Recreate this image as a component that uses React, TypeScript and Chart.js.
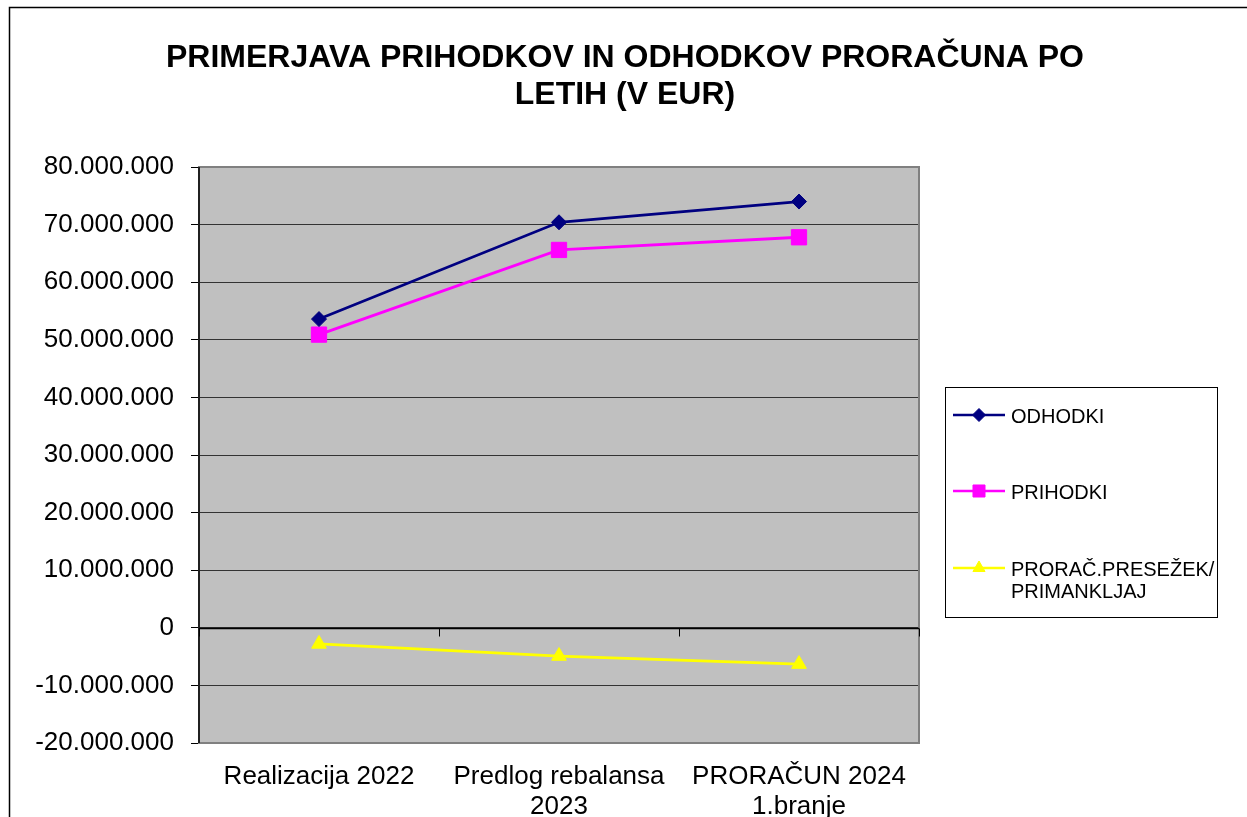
import React, { useEffect, useRef } from 'react';
import { Chart, registerables } from 'chart.js';
import { drawPoint } from 'chart.js/helpers';

Chart.register(...registerables);

const FONT = '"Liberation Sans", Arial, sans-serif';

const TITLE_LINES = ['PRIMERJAVA PRIHODKOV IN ODHODKOV PRORAČUNA PO', 'LETIH (V EUR)'];
const CATEGORIES = [['Realizacija 2022'], ['Predlog rebalansa', '2023'], ['PRORAČUN 2024', '1.branje']];
const ODHODKI = [53600000, 70400000, 74000000];
const PRIHODKI = [50900000, 65600000, 67800000];
const PRESEZEK = [-2800000, -4900000, -6300000];
const SERIES_NAMES = ['ODHODKI', 'PRIHODKI', 'PRORAČ.PRESEŽEK/PRIMANKLJAJ'];
const LEGEND_LABELS = [['ODHODKI'], ['PRIHODKI'], ['PRORAČ.PRESEŽEK/', 'PRIMANKLJAJ']];
const Y_MIN = -20000000;
const Y_MAX = 80000000;
const Y_STEP = 10000000;

function fmt(v: number): string {
  const s = Math.abs(Math.round(v)).toString().replace(/\B(?=(\d{3})+(?!\d))/g, '.');
  return (v < 0 ? '-' : '') + s;
}

const decorPlugin = {
  id: 'decor',
  beforeDraw(chart: any) {
    const { ctx, chartArea: a } = chart;
    ctx.save();
    ctx.fillStyle = '#ffffff';
    ctx.fillRect(0, 0, chart.width, chart.height);
    // outer frame
    ctx.strokeStyle = '#000000';
    ctx.lineWidth = 1.5;
    ctx.beginPath();
    ctx.moveTo(9.5, chart.height);
    ctx.lineTo(9.5, 7.5);
    ctx.lineTo(chart.width, 7.5);
    ctx.stroke();
    // plot background
    ctx.fillStyle = '#C0C0C0';
    ctx.fillRect(a.left, a.top, a.right - a.left, a.bottom - a.top);
    // title
    ctx.fillStyle = '#000000';
    ctx.font = `bold 32px ${FONT}`;
    ctx.textAlign = 'center';
    ctx.textBaseline = 'middle';
    TITLE_LINES.forEach((t, i) => ctx.fillText(t, 625, 58 + i * 37));
    ctx.restore();
  },
  beforeDatasetsDraw(chart: any) {
    const { ctx, chartArea: a, scales } = chart;
    ctx.save();
    ctx.strokeStyle = '#808080';
    ctx.lineWidth = 2;
    ctx.strokeRect(a.left, a.top, a.right - a.left, a.bottom - a.top);
    // left axis line
    ctx.strokeStyle = '#000000';
    ctx.lineWidth = 1.5;
    ctx.beginPath();
    ctx.moveTo(a.left, a.top);
    ctx.lineTo(a.left, a.bottom);
    ctx.stroke();
    // zero axis with category ticks
    const y0 = Math.round(scales.y.getPixelForValue(0)) + 0.5;
    ctx.lineWidth = 1.5;
    ctx.beginPath();
    ctx.moveTo(a.left, y0);
    ctx.lineTo(a.right, y0);
    ctx.stroke();
    ctx.lineWidth = 1;
    const n = CATEGORIES.length;
    const step = (a.right - a.left) / n;
    for (let i = 0; i <= n; i++) {
      const x = Math.round(a.left + i * step) + 0.5;
      ctx.beginPath();
      ctx.moveTo(x, y0);
      ctx.lineTo(x, y0 + 8);
      ctx.stroke();
    }
    ctx.restore();
  },
  afterDraw(chart: any) {
    const { ctx } = chart;
    ctx.save();
    const lx = 945.5, ly = 387.5, lw = 272, lh = 230;
    ctx.fillStyle = '#ffffff';
    ctx.fillRect(lx, ly, lw, lh);
    ctx.strokeStyle = '#000000';
    ctx.lineWidth = 1;
    ctx.strokeRect(lx, ly, lw, lh);
    const itemY = [415, 491, 568];
    const legendRadius = [6.5, 8.5, 7];
    chart.data.datasets.forEach((ds: any, i: number) => {
      const y = itemY[i];
      ctx.strokeStyle = ds.borderColor;
      ctx.lineWidth = 2.5;
      ctx.beginPath();
      ctx.moveTo(953, y);
      ctx.lineTo(1005, y);
      ctx.stroke();
      ctx.fillStyle = ds.backgroundColor;
      ctx.strokeStyle = ds.borderColor;
      ctx.lineWidth = 1;
      drawPoint(ctx, { pointStyle: ds.pointStyle, rotation: 0, radius: legendRadius[i], borderWidth: 1 }, 979, y);
      ctx.fillStyle = '#000000';
      ctx.font = `20px ${FONT}`;
      ctx.textAlign = 'left';
      ctx.textBaseline = 'middle';
      LEGEND_LABELS[i].forEach((t, j) => ctx.fillText(t, 1011, y + 2 + j * 22));
    });
    ctx.restore();
  },
};

export default function App() {
  const ref = useRef<HTMLCanvasElement>(null);
  useEffect(() => {
    document.body.style.margin = '0';
    const canvas = ref.current;
    if (!canvas) return;
    const chart = new Chart(canvas, {
      type: 'line',
      data: {
        labels: CATEGORIES as any,
        datasets: [
          {
            label: SERIES_NAMES[0],
            data: ODHODKI,
            borderColor: '#000080',
            backgroundColor: '#000080',
            pointStyle: 'rectRot',
            pointRadius: 7.5,
            pointBorderWidth: 1,
            borderWidth: 2.8,
            tension: 0,
            fill: false,
          },
          {
            label: SERIES_NAMES[1],
            data: PRIHODKI,
            borderColor: '#FF00FF',
            backgroundColor: '#FF00FF',
            pointStyle: 'rect',
            pointRadius: 10.8,
            pointBorderWidth: 1,
            borderWidth: 2.8,
            tension: 0,
            fill: false,
          },
          {
            label: SERIES_NAMES[2],
            data: PRESEZEK,
            borderColor: '#FFFF00',
            backgroundColor: '#FFFF00',
            pointStyle: 'triangle',
            pointRadius: 8.5,
            pointBorderWidth: 1,
            borderWidth: 2.8,
            tension: 0,
            fill: false,
          },
        ],
      },
      options: {
        animation: false,
        responsive: false,
        devicePixelRatio: 1,
        layout: { padding: { top: 167, right: 328, bottom: 0, left: 0 } },
        plugins: {
          legend: { display: false },
          title: { display: false },
          tooltip: { enabled: false },
        },
        scales: {
          x: {
            type: 'category',
            offset: true,
            grid: { display: false, drawTicks: false },
            border: { display: false },
            ticks: {
              color: '#000000',
              font: { family: FONT, size: 26, lineHeight: 1.15 },
              padding: 19,
              maxRotation: 0,
              autoSkip: false,
            },
            afterFit: (s: any) => {
              s.height = 74;
            },
          },
          y: {
            min: Y_MIN,
            max: Y_MAX,
            ticks: {
              stepSize: Y_STEP,
              color: '#000000',
              font: { family: FONT, size: 26 },
              padding: 17,
              callback: (v: any) => fmt(Number(v)),
            },
            grid: { color: '#333333', tickColor: '#000000', tickLength: 8, lineWidth: 1 },
            border: { display: false },
            afterFit: (s: any) => {
              s.width = 199;
            },
          },
        },
      },
      plugins: [decorPlugin],
    } as any);
    return () => chart.destroy();
  }, []);
  return (
    <div style={{ position: 'fixed', left: 0, top: 0, width: 1247, height: 817 }}>
      <canvas ref={ref} width={1247} height={817} style={{ width: 1247, height: 817, display: 'block' }} />
    </div>
  );
}
